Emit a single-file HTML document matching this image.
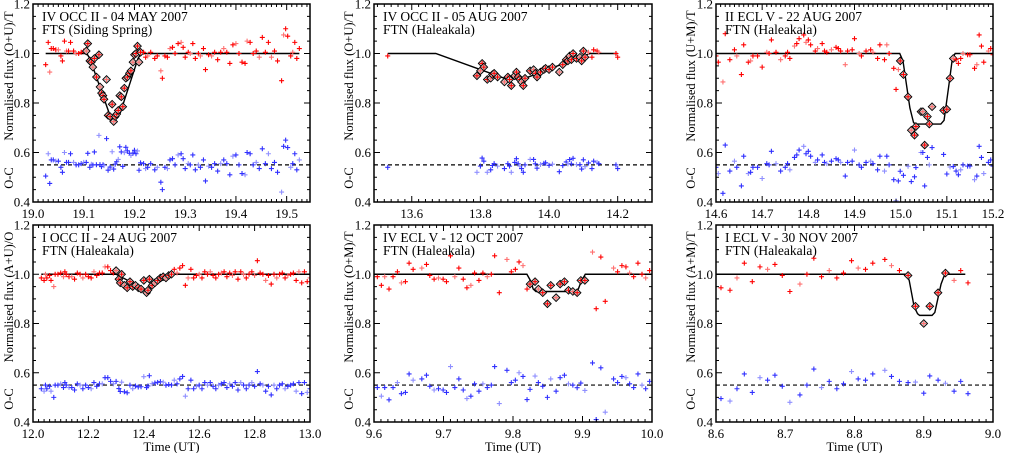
<!DOCTYPE html>
<html><head><meta charset="utf-8"><style>
html,body{margin:0;padding:0;background:#fff;}
svg{display:block;font-family:"Liberation Serif",serif;}
</style></head><body>
<svg id="fig" width="1009" height="453" viewBox="0 0 1009 453"></svg>
<script>
// ---- Panel 1: IV OCC II - 04 MAY 2007 ----
const p1T=[19.025,19.03,19.033,19.036,19.04,19.045,19.05,19.055,19.058,19.062,19.066,19.07,19.074,19.08,19.085,19.09,19.095,19.1,19.105,19.108,19.112,19.115,19.118,19.121,19.125,19.13,19.132,19.135,19.138,19.14,19.145,19.148,19.152,19.156,19.159,19.162,19.165,19.168,19.171,19.174,19.177,19.18,19.183,19.186,19.19,19.193,19.197,19.2,19.203,19.206,19.209,19.212,19.218,19.222,19.226,19.232,19.24,19.245,19.252,19.255,19.26,19.265,19.27,19.275,19.28,19.286,19.292,19.296,19.3,19.306,19.31,19.315,19.32,19.326,19.33,19.336,19.34,19.346,19.352,19.358,19.364,19.37,19.376,19.382,19.388,19.394,19.4,19.406,19.412,19.418,19.422,19.428,19.434,19.44,19.446,19.452,19.458,19.464,19.47,19.476,19.482,19.49,19.494,19.498,19.502,19.508,19.512,19.516,19.52,19.525];
const p1F=[.955,1.045,.925,1.02,1.02,1.015,1.015,.99,.97,1.05,1.01,1.01,1.045,1.01,1.0,1.0,1.005,1.01,1.01,1.04,.97,.965,.945,.98,.905,.995,.865,.84,.83,.815,.895,.75,.745,.795,.725,.745,.755,.77,.83,.825,.785,.86,.9,.905,.92,.93,.965,.995,1.0,1.03,.965,1.005,1.005,.985,.99,1.005,.98,.99,.93,.9,.99,.985,1.02,1.025,1.0,1.04,1.045,1.025,.985,1.005,1.0,1.04,.98,1.0,.99,1.02,.935,.995,.99,1.005,.975,1.005,1.02,1.005,.96,1.035,1.04,1.0,.965,.96,1.05,1.045,1.0,1.01,.985,1.065,1.005,1.045,.985,1.01,.97,.89,1.075,1.1,1.07,.99,1.005,1.045,.98,1.02];
const p1MT=[19.025,19.106,19.112,19.15,19.156,19.166,19.172,19.207,19.213,19.525];
const p1MF=[1,1,.98,.76,.742,.742,.76,.98,1,1];
const p1Fit=[19.104,19.214];
const p1Ticks=["19.0","19.1","19.2","19.3","19.4","19.5"];
// ---- Panel 2: IV OCC II - 05 AUG 2007 ----
const p2T=[13.53,13.79,13.8,13.805,13.81,13.82,13.83,13.835,13.84,13.85,13.87,13.88,13.885,13.89,13.9,13.905,13.91,13.915,13.92,13.925,13.93,13.945,13.955,13.96,13.965,13.975,13.985,13.99,14.0,14.01,14.03,14.04,14.05,14.055,14.06,14.065,14.07,14.08,14.09,14.095,14.1,14.105,14.115,14.125,14.13,14.14,14.145,14.195,14.2];
const p2F=[.99,.91,.93,.96,.945,.895,.9,.915,.92,.905,.885,.905,.895,.87,.91,.925,.905,.895,.885,.87,.9,.93,.935,.92,.905,.925,.935,.94,.935,.945,.925,.955,.975,.97,.99,.975,1.0,.98,.985,.97,1.01,.985,1.005,.985,1.015,1.01,1.005,1.0,.985];
const p2MT=[13.53,13.67,13.87,13.93,14.12,14.2];
const p2MF=[1,1,.9,.9,1,1];
const p2Fit=[13.785,14.112];
const p2Ticks=["13.6","13.8","14.0","14.2"];
// ---- Panel 3: II ECL V - 22 AUG 2007 ----
const p3T=[14.6,14.605,14.615,14.62,14.63,14.64,14.645,14.655,14.66,14.67,14.675,14.68,14.69,14.7,14.71,14.715,14.72,14.73,14.74,14.75,14.755,14.76,14.77,14.775,14.78,14.79,14.795,14.8,14.805,14.815,14.82,14.83,14.835,14.84,14.85,14.86,14.865,14.87,14.88,14.885,14.895,14.9,14.91,14.915,14.925,14.935,14.94,14.95,14.955,14.965,14.97,14.975,14.985,14.99,14.995,14.999,15.006,15.016,15.023,15.03,15.033,15.044,15.048,15.052,15.058,15.062,15.068,15.093,15.1,15.107,15.114,15.12,15.125,15.13,15.135,15.145,15.15,15.16,15.165,15.17,15.175,15.18,15.19,15.195,15.2];
const p3F=[.99,.965,.885,1.08,.975,1.015,.99,.915,1.035,.965,.97,.99,.99,.945,1.005,1.0,1.055,1.005,.975,.99,1.005,.98,1.03,1.04,1.06,1.075,1.045,1.055,1.035,1.01,1.02,1.04,1.01,1.005,1.015,1.025,1.02,1.01,.955,1.01,1.015,1.06,1.0,.99,1.01,1.015,1.005,.98,1.035,.975,1.035,1.0,.94,.855,.935,.97,.915,.825,.69,.67,.705,.765,.765,.63,.745,.715,.785,.77,.775,.9,.98,.975,.96,.98,1.0,.995,.995,.94,.955,1.075,1.03,.965,1.01,1.02,.995];
const p3MT=[14.6,14.998,15.005,15.02,15.028,15.034,15.087,15.094,15.105,15.112,15.118,15.2];
const p3MF=[1,1,.97,.78,.72,.715,.715,.73,.88,.98,1,1];
const p3Fit=[14.997,15.116];
const p3Ticks=["14.6","14.7","14.8","14.9","15.0","15.1","15.2"];
// ---- Panel 4: I OCC II - 24 AUG 2007 ----
const p4T=[12.03,12.04,12.045,12.05,12.06,12.065,12.075,12.08,12.09,12.1,12.11,12.115,12.12,12.13,12.14,12.15,12.16,12.17,12.18,12.19,12.2,12.21,12.22,12.23,12.24,12.25,12.26,12.27,12.28,12.29,12.3,12.31,12.315,12.32,12.33,12.34,12.35,12.36,12.37,12.38,12.39,12.4,12.41,12.415,12.42,12.43,12.44,12.45,12.46,12.47,12.48,12.49,12.5,12.51,12.52,12.53,12.54,12.55,12.56,12.57,12.58,12.59,12.6,12.61,12.62,12.63,12.64,12.65,12.66,12.67,12.68,12.69,12.7,12.71,12.72,12.73,12.74,12.75,12.76,12.77,12.78,12.79,12.8,12.81,12.82,12.83,12.84,12.85,12.86,12.87,12.88,12.89,12.9,12.91,12.92,12.93,12.94,12.95,12.96,12.97,12.98,12.99,13.0];
const p4F=[.985,.975,1.0,.985,.995,.975,.95,1.0,1.0,1.005,.99,1.01,1.0,.99,.99,.98,1.005,1.0,.985,1.0,.99,.985,1.01,.995,1.005,1.005,1.03,1.03,1.015,1.005,1.015,.98,.965,1.0,.955,.945,.97,.95,.955,.945,.94,.975,.925,.935,.98,.955,.965,.975,.985,.99,.985,.995,1.0,1.02,1.005,1.025,1.035,.955,.985,1.02,.985,.995,1.0,.985,1.01,1.0,1.01,.995,.985,1.0,1.005,1.01,.99,1.005,.995,1.01,.98,1.01,1.0,.985,1.0,1.01,.995,1.055,1.005,1.0,.975,.995,.96,1.0,.985,1.0,1.005,.985,.995,1.0,1.005,.975,1.01,.965,1.01,.97,.985];
const p4MT=[12.03,12.3,12.41,12.5,13.0];
const p4MF=[1,1,.935,1,1];
const p4Fit=[12.295,12.505];
const p4Ticks=["12.0","12.2","12.4","12.6","12.8","13.0"];
// ---- Panel 5: IV ECL V - 12 OCT 2007 ----
const p5T=[9.6048,9.6106,9.6154,9.6216,9.6274,9.6337,9.6394,9.6452,9.6505,9.6563,9.6688,9.6755,9.6803,9.6865,9.6928,9.6995,9.7043,9.7101,9.7163,9.7221,9.7284,9.7337,9.7394,9.7447,9.751,9.7567,9.763,9.7688,9.7736,9.7803,9.7913,9.7976,9.8034,9.8087,9.8144,9.8202,9.8245,9.8317,9.8365,9.8428,9.8495,9.8543,9.862,9.8678,9.874,9.8798,9.8861,9.8923,9.8976,9.9034,9.9144,9.9197,9.9264,9.9327,9.9447,9.9505,9.9567,9.9625,9.9678,9.9736,9.9798,9.9856,9.9909,9.9966];
const p5F=[.99,.955,.99,.94,.99,1.01,.965,.97,1.045,1.02,1.025,1.04,.995,.98,.985,.98,.97,1.075,.99,1.025,.98,.945,.955,1.005,.975,1.005,.99,1.0,1.075,.925,1.06,1.01,1.02,1.05,1.035,.94,.96,.97,.94,.925,.88,.955,.905,.96,.97,.935,.93,.925,.975,.975,1.09,.86,1.07,.89,1.025,1.01,1.035,1.03,1.005,.99,1.045,1.0,.985,1.015];
const p5MT=[9.6,9.82,9.826,9.829,9.833,9.89,9.894,9.898,9.904,10.0];
const p5MF=[1,1,.97,.94,.93,.93,.94,.97,1,1];
const p5Fit=[9.822,9.905];
const p5Ticks=["9.6","9.7","9.8","9.9","10.0"];
// ---- Panel 6: I ECL V - 30 NOV 2007 ----
const p6T=[8.6072,8.6202,8.6303,8.6409,8.6524,8.6635,8.6745,8.6851,8.6957,8.7067,8.7212,8.7313,8.7413,8.7524,8.7635,8.7745,8.7841,8.7957,8.8053,8.8159,8.8264,8.8438,8.8534,8.8649,8.8774,8.888,8.9,8.9087,8.9207,8.9313,8.9438,8.9534,8.9639];
const p6F=[.945,.935,.985,1.045,.97,1.03,1.02,1.04,.995,.93,.96,1.0,1.065,.99,1.015,.985,1.005,1.055,1.025,1.02,1.045,1.06,1.035,1.015,.995,.87,.8,.87,.925,1.005,.975,1.015,.965];
const p6MT=[8.6,8.875,8.879,8.886,8.891,8.894,8.912,8.916,8.925,8.929,8.932,8.96];
const p6MF=[1,1,.975,.87,.84,.833,.833,.845,.96,.99,1,1];
const p6Fit=[8.874,8.934];
const p6Ticks=["8.6","8.7","8.8","8.9","9.0"];

const NS="http://www.w3.org/2000/svg";
const svg=document.getElementById('fig');
function mk(tag,attrs,parent){const e=document.createElementNS(NS,tag);for(const k in attrs)e.setAttribute(k,attrs[k]);(parent||svg).appendChild(e);return e;}
function modelAt(mt,mf,t){if(t<=mt[0])return mf[0];for(let i=1;i<mt.length;i++){if(t<=mt[i]){const r=(t-mt[i-1])/(mt[i]-mt[i-1]);return mf[i-1]+r*(mf[i]-mf[i-1]);}}return mf[mf.length-1];}

const panels=[
 {name:'panel-iv-occ-ii-04-may',x0:33,x1:310,y0:4,y1:202,xmin:19.0,xmax:19.546,minor:0.01,major:0.1,T:p1T,F:p1F,MT:p1MT,MF:p1MF,fit:p1Fit,ticks:p1Ticks,t1:'IV OCC II - 04 MAY 2007',t2:'FTS (Siding Spring)',ylab:'Normalised flux (O+U)/T',lx:9,xtitle:false},
 {name:'panel-iv-occ-ii-05-aug',x0:374,x1:652,y0:4,y1:202,xmin:13.49,xmax:14.30,minor:0.02,major:0.2,T:p2T,F:p2F,MT:p2MT,MF:p2MF,fit:p2Fit,ticks:p2Ticks,t1:'IV OCC II - 05 AUG 2007',t2:'FTN (Haleakala)',ylab:'Normalised flux (O+U)/T',lx:349,xtitle:false},
 {name:'panel-ii-ecl-v-22-aug',x0:716,x1:993,y0:4,y1:202,xmin:14.6,xmax:15.2,minor:0.01,major:0.1,T:p3T,F:p3F,MT:p3MT,MF:p3MF,fit:p3Fit,ticks:p3Ticks,t1:'II ECL V - 22 AUG 2007',t2:'FTN (Haleakala)',ylab:'Normalised flux (U+M)/T',lx:691,xtitle:false},
 {name:'panel-i-occ-ii-24-aug',x0:33,x1:310,y0:225,y1:422,xmin:12.0,xmax:13.0,minor:0.02,major:0.2,T:p4T,F:p4F,MT:p4MT,MF:p4MF,fit:p4Fit,ticks:p4Ticks,t1:'I OCC II - 24 AUG 2007',t2:'FTN (Haleakala)',ylab:'Normalised flux (A+U)/O',lx:9,xtitle:true},
 {name:'panel-iv-ecl-v-12-oct',x0:374,x1:652,y0:225,y1:422,xmin:9.6,xmax:10.0,minor:0.01,major:0.1,T:p5T,F:p5F,MT:p5MT,MF:p5MF,fit:p5Fit,ticks:p5Ticks,t1:'IV ECL V - 12 OCT 2007',t2:'FTN (Haleakala)',ylab:'Normalised flux (O+M)/T',lx:349,xtitle:true},
 {name:'panel-i-ecl-v-30-nov',x0:716,x1:993,y0:225,y1:422,xmin:8.6,xmax:9.0,minor:0.01,major:0.1,T:p6T,F:p6F,MT:p6MT,MF:p6MF,fit:p6Fit,ticks:p6Ticks,t1:'I ECL V - 30 NOV 2007',t2:'FTN (Haleakala)',ylab:'Normalised flux (A+M)/T',lx:691,xtitle:true}
];
const yTicks=["0.4","0.6","0.8","1.0","1.2"];

panels.forEach((p,pi)=>{
 const g=mk('g',{});
 
 
 const X=t=>p.x0+(t-p.xmin)/(p.xmax-p.xmin)*(p.x1-p.x0);
 const Y=v=>p.y1-(v-0.4)/0.8*(p.y1-p.y0);
 const cid='clip'+pi;
 const cp=mk('clipPath',{id:cid},g);mk('rect',{x:p.x0,y:p.y0,width:p.x1-p.x0,height:p.y1-p.y0},cp);
 const plot=mk('g',{'clip-path':'url(#'+cid+')'},g);
 
 
 const dl=mk('line',{x1:p.x0,x2:p.x1,y1:Y(0.55),y2:Y(0.55),stroke:'#000','stroke-width':1.2,'stroke-dasharray':'4,3'},plot);
 
 
 let d='';p.MT.forEach((t,i)=>{d+=(i?'L':'M')+X(t).toFixed(2)+','+Y(p.MF[i]).toFixed(2);});
 const ml=mk('path',{d:d,fill:'none',stroke:'#000','stroke-width':1.4},plot);
 
 
 p.T.forEach((t,i)=>{
  const r=p.F[i]-modelAt(p.MT,p.MF,t)+0.55;
  const x=X(t),y=Y(r);
  const c=(i%4===1)?'#8f8fff':'#3030ff';
  const pt=mk('path',{d:`M${x-2.5},${y}h5M${x},${y-2.5}v5`,stroke:c,'stroke-width':1.1},plot);
  
  
 });
 p.T.forEach((t,i)=>{
  const x=X(t),y=Y(p.F[i]);
  if(t>=p.fit[0]&&t<=p.fit[1]){
   const dm=mk('path',{d:`M${x},${y-3.8}L${x+3.8},${y}L${x},${y+3.8}L${x-3.8},${y}Z`,fill:'#d0d0d0',stroke:'#000','stroke-width':0.9},plot);
   
   
  }
  const c=(i%4===2)?'#ff7070':'#ff0000';
  const pt=mk('path',{d:`M${x-2.5},${y}h5M${x},${y-2.5}v5`,stroke:c,'stroke-width':1.1},plot);
  
  
 });
 const box=mk('rect',{x:p.x0,y:p.y0,width:p.x1-p.x0,height:p.y1-p.y0,fill:'none',stroke:'#000','stroke-width':1.5},g);
 
 
 let td='';
 const start=Math.ceil(p.xmin/p.minor-1e-6);
 for(let k=start;k*p.minor<=p.xmax+1e-9;k++){
  const t=k*p.minor;const x=X(t);
  const isMaj=Math.abs(t/p.major-Math.round(t/p.major))<1e-6;
  const L=isMaj?6:3;
  td+=`M${x},${p.y1}v${-L}M${x},${p.y0}v${L}`;
 }
 for(let v=0.4;v<=1.2001;v+=0.05){
  const y=Y(v);const isMaj=Math.abs(v/0.2-Math.round(v/0.2))<1e-6;const L=isMaj?6:3;
  td+=`M${p.x0},${y}h${L}M${p.x1},${y}h${-L}`;
 }
 const tk=mk('path',{d:td,stroke:'#000','stroke-width':1},g);
 
 
 p.ticks.forEach(s=>{
  const tx=mk('text',{x:X(parseFloat(s)),y:p.y1+16,'text-anchor':'middle','font-size':13},g);
  tx.textContent=s;
  
  
 });
 yTicks.forEach(s=>{
  const tx=mk('text',{x:p.x0-3,y:Y(parseFloat(s))+4.5,'text-anchor':'end','font-size':13},g);
  tx.textContent=s;
  
  
 });
 const t1=mk('text',{x:p.x0+9,y:p.y0+17,'font-size':13.5},g);t1.textContent=p.t1;
 
 
 const t2=mk('text',{x:p.x0+9,y:p.y0+30,'font-size':13.5},g);t2.textContent=p.t2;
 
 
 const yl=mk('text',{x:0,y:0,'font-size':12.5,'text-anchor':'middle',transform:`translate(${p.lx+4},${p.y0+72}) rotate(-90)`},g);yl.textContent=p.ylab;
 
 
 const oc=mk('text',{x:0,y:0,'font-size':12.5,'text-anchor':'middle',transform:`translate(${p.lx+4},${p.y0+174}) rotate(-90)`},g);oc.textContent='O-C';
 
 
 if(p.xtitle){
  const xt=mk('text',{x:(p.x0+p.x1)/2,y:451,'text-anchor':'middle','font-size':13},g);xt.textContent='Time (UT)';
  
  
 }
});
</script>
</body></html>
